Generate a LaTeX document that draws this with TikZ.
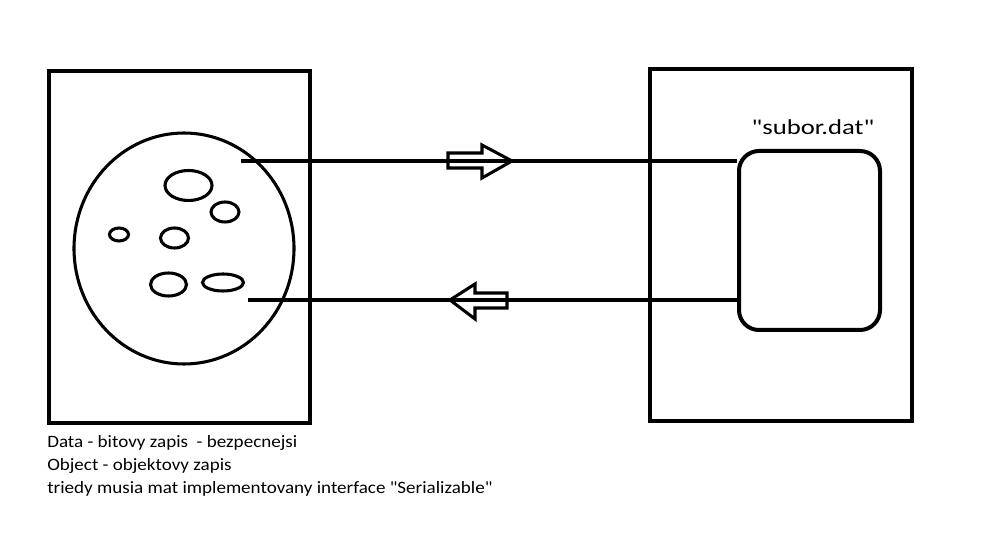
\documentclass[tikz,border=0pt]{standalone}
\usepackage{fontspec}
\setmainfont{Carlito}
\usetikzlibrary{shapes.geometric}
\begin{document}
\begin{tikzpicture}[x=0.75pt,y=-0.75pt,
  thick line/.style={line width=3pt, black},
  blob/.style={line width=2.3pt, black},
  hollowarrow/.style={line width=2.3pt, black, line join=miter},
  note/.style={anchor=base west, inner sep=0, xscale=1.1, transform shape, font=\fontsize{13}{15}\selectfont}]
\useasboundingbox (0,0) rectangle (986,555);
% left box
\draw[thick line] (49,71) rectangle (310,423);
\node[draw, line width=2.3pt, ellipse, minimum width=220*0.75pt, minimum height=231*0.75pt, inner sep=0] (world) at (184,248.5) {};
\draw[blob] (188.5,185.5) ellipse [x radius=23.5, y radius=15];
\draw[blob] (225,212) ellipse [x radius=14, y radius=10];
\draw[blob] (119,234.5) ellipse [x radius=9.5, y radius=6.5];
\draw[blob] (174.5,238) ellipse [x radius=14, y radius=10];
\draw[blob] (168.5,284.5) ellipse [x radius=18, y radius=11.5];
\draw[blob] (223,282.5) ellipse [x radius=20.5, y radius=8.5];
% right box
\draw[thick line] (650,69) rectangle (912,421);
\node[draw, line width=3pt, rounded corners=15pt, minimum width=141*0.75pt, minimum height=179*0.75pt, inner sep=0, anchor=north west] (file) at (737,149) {};
\node[anchor=base, inner sep=0, xscale=1.25, transform shape, font=\fontsize{16}{18}\selectfont] (fname) at (813,135) {\textquotedbl subor.dat\textquotedbl};
% connectors
\coordinate (wout) at (241,161);
\coordinate (win) at (248,300);
\draw[line width=2.3pt] (wout) -- (wout -| file.west);
\draw[line width=2.3pt] (win) -- (win -| file.west);
% hollow arrows
\draw[hollowarrow] (448,153) -- (482,153) -- (482,145) -- (512,161) -- (482,178) -- (482,168) -- (448,168) -- cycle;
\draw[hollowarrow] (507,293) -- (475,293) -- (475,284) -- (450,300) -- (475,319) -- (475,308) -- (507,308) -- cycle;
% notes
\node[note] (note1) at (47,448) {Data - bitovy zapis\ \ - bezpecnejsi};
\node[note] (note2) at (47,471) {Object - objektovy zapis};
\node[note] (note3) at (47,494) {triedy musia mat implementovany interface \textquotedbl Serializable\textquotedbl};
\end{tikzpicture}
\end{document}
